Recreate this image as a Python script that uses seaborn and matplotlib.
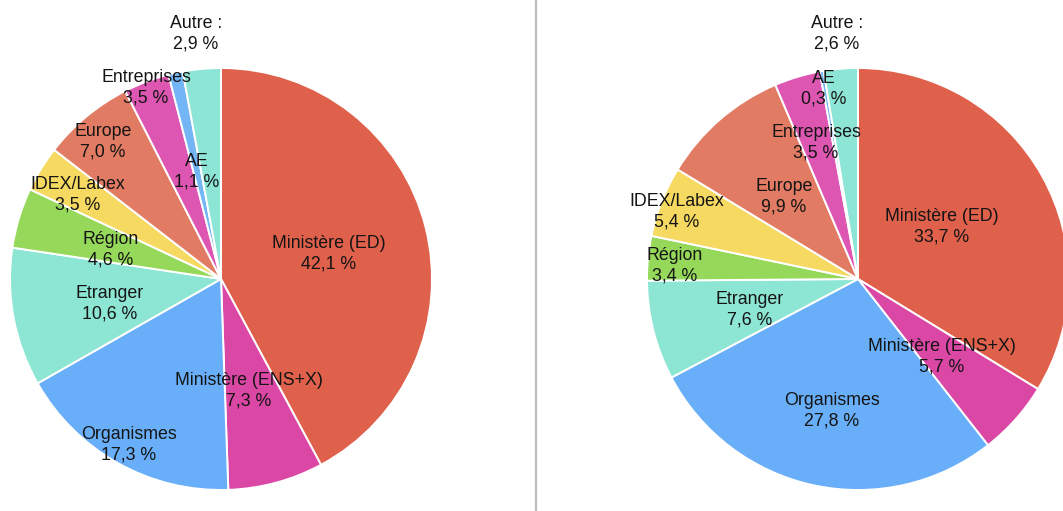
import matplotlib
matplotlib.use("Agg")
import matplotlib.pyplot as plt
import seaborn as sns

# Funding sources of doctoral contracts, two cohorts
categories = ["Ministère (ED)", "Ministère (ENS+X)", "Organismes", "Etranger",
              "Région", "IDEX/Labex", "Europe", "Entreprises", "AE", "Autre :"]
values_left = [42.1, 7.3, 17.3, 10.6, 4.6, 3.5, 7.0, 3.5, 1.1, 2.9]
values_right = [33.7, 5.7, 27.8, 7.6, 3.4, 5.4, 9.9, 3.5, 0.3, 2.6]

colors = ["#E0614B", "#DA47A4", "#68AEF8", "#8DE6D3", "#95D85A",
          "#F6D961", "#E27B63", "#DD56B1", "#74B5F6", "#8DE6D5"]

# label anchor points (pixel coordinates, origin top-left)
label_pos_left = [(329, 254), (249, 391), (129, 445), (110, 304), (111, 250),
                  (78, 195), (103, 142), (146, 88), (197, 172), (196, 34)]
label_pos_right = [(942, 227), (942, 357), (832, 411), (750, 310), (675, 266),
                   (677, 212), (784, 197), (816, 143), (824, 89), (837, 34)]

W, H = 1063, 511

sns.set_theme(style="white")
plt.rcParams["font.family"] = ["Liberation Sans", "DejaVu Sans"]

fig = plt.figure(figsize=(W / 100, H / 100), dpi=100)
ax = fig.add_axes([0, 0, 1, 1])


def fmt(name, v):
    return f"{name}\n{v:.1f} %".replace(".", ",")


def draw_pie(values, center, radius, positions):
    ax.pie(values, colors=colors, startangle=90, counterclock=False,
           center=center, radius=radius,
           wedgeprops=dict(edgecolor="white", linewidth=1.4))
    for name, v, (x, y) in zip(categories, values, positions):
        ax.text(x, H - y, fmt(name, v), ha="center", va="center",
                fontsize=12.8, color="#141414", linespacing=1.28)


draw_pie(values_left, (221, H - 279), 211, label_pos_left)
draw_pie(values_right, (858, H - 279), 211, label_pos_right)

ax.axvline(536, color="#BDBDBD", linewidth=1.6)

ax.set_xlim(0, W)
ax.set_ylim(0, H)
ax.set_aspect("equal")
ax.axis("off")

fig.savefig("out.png", dpi=100, facecolor="white")
